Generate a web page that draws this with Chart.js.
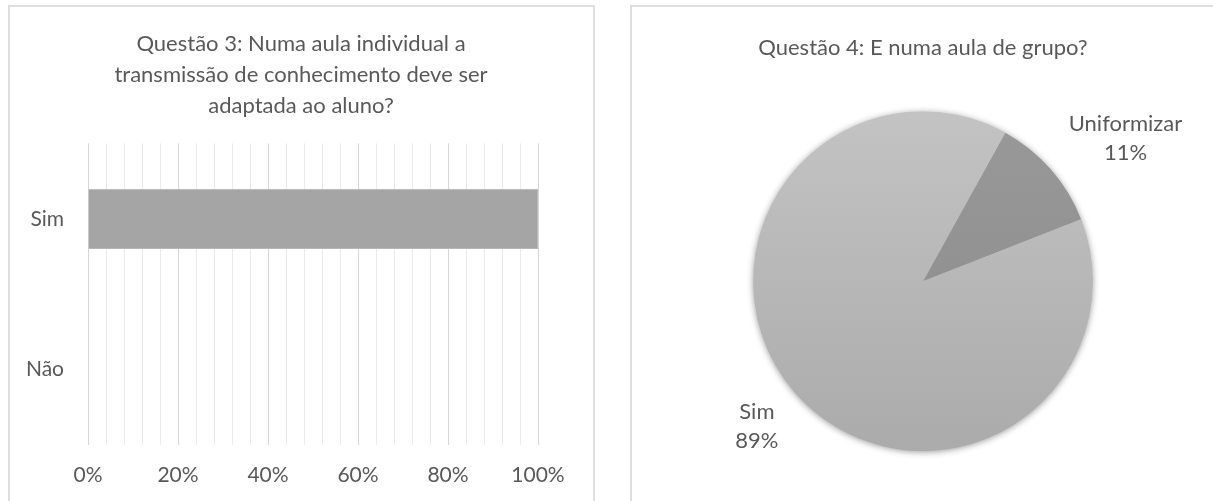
<!DOCTYPE html>
<html>
<head>
<meta charset="utf-8">
<script src="https://cdn.jsdelivr.net/npm/chart.js@4.4.1/dist/chart.umd.min.js"></script>
<style>
    html, body { margin: 0; padding: 0; background: #fff; }
    body { width: 1213px; height: 501px; position: relative; overflow: hidden; }
    .panel { position: absolute; border: 2px solid #dedede; background: #fff; }
    #panel-q3 { left: 8px; top: 5px; width: 583px; height: 520px; }
    #panel-q4 { left: 630px; top: 5px; width: 620px; height: 520px; }
    canvas { position: absolute; }
    #chart-q3 { left: 10px; top: 8px; }
    #chart-q4 { left: 632px; top: 8px; }
</style>
</head>
<body>
<div class="panel" id="panel-q3"></div>
<div class="panel" id="panel-q4"></div>
<canvas id="chart-q3" width="582" height="493"></canvas>
<canvas id="chart-q4" width="581" height="493"></canvas>

<script>
// Question 3 (bar)
const q3Title = ['Questão 3: Numa aula individual a', 'transmissão de conhecimento deve ser', 'adaptada ao aluno?'];
const q3Labels = ['Sim', 'Não'];
const q3Values = [100, 0]; // percent

// Question 4 (pie)
const q4Title = 'Questão 4: E numa aula de grupo?';
const q4Labels = ['Uniformizar', 'Sim'];
const q4Values = [11, 89]; // percent

const FONT = "Lato, 'Open Sans', sans-serif";
const TEXT = '#595959';

// center the title over the whole canvas, not just the padded area
const fullWidthTitle = {
    id: 'fullWidthTitle',
    afterLayout(chart) {
        const t = chart.titleBlock;
        if (!t) return;
        t.left = 0;
        t.right = chart.width;
        t.width = chart.width;
    }
};

// Bar chart
new Chart(document.getElementById('chart-q3'), {
    type: 'bar',
    data: {
        labels: q3Labels,
        datasets: [{
            data: q3Values,
            backgroundColor: '#a5a5a5',
            borderColor: '#b8b8b8',
            borderWidth: 1,
            categoryPercentage: 0.4,
            barPercentage: 1
        }]
    },
    options: {
        indexAxis: 'y',
        responsive: false,
        animation: false,
        layout: { padding: { left: 0, right: 54, top: 0, bottom: 0 } },
        plugins: {
            legend: { display: false },
            tooltip: { enabled: false },
            title: {
                display: true,
                text: q3Title,
                color: TEXT,
                font: { family: FONT, size: 22, weight: 'normal', lineHeight: 1.4 },
                padding: { top: 21, bottom: 22 }
            }
        },
        scales: {
            x: {
                min: 0,
                max: 100,
                afterFit: scale => { scale.height = 56; },
                ticks: {
                    stepSize: 4,
                    autoSkip: false,
                    maxRotation: 0,
                    padding: 18,
                    color: TEXT,
                    font: { family: FONT, size: 21 },
                    callback: v => (v % 20 === 0 ? v + '%' : '')
                },
                grid: {
                    drawTicks: false,
                    color: ctx => (ctx.tick && ctx.tick.value % 20 === 0 ? '#d6d6d6' : '#ebebeb')
                },
                border: { display: false }
            },
            y: {
                afterFit: scale => { scale.width = 78; },
                ticks: {
                    padding: 24,
                    color: TEXT,
                    font: { family: FONT, size: 21 }
                },
                grid: { display: false, drawTicks: false },
                border: { display: false }
            }
        }
    },
    plugins: [fullWidthTitle]
});

// Pie: soft shadow behind the disc and outside labels
const pieExtras = {
    id: 'pieExtras',
    beforeDatasetsDraw(chart) {
        const arc = chart.getDatasetMeta(0).data[0];
        if (!arc) return;
        const ctx = chart.ctx;
        ctx.save();
        ctx.shadowColor = 'rgba(0,0,0,0.45)';
        ctx.shadowBlur = 7;
        ctx.shadowOffsetY = 1;
        ctx.fillStyle = '#b4b4b4';
        ctx.beginPath();
        ctx.arc(arc.x, arc.y, arc.outerRadius - 0.5, 0, Math.PI * 2);
        ctx.fill();
        ctx.restore();
    },
    afterDatasetsDraw(chart, args, opts) {
        const ctx = chart.ctx;
        const meta = chart.getDatasetMeta(0);
        const total = q4Values.reduce((a, b) => a + b, 0);
        ctx.save();
        ctx.fillStyle = TEXT;
        ctx.font = `22px ${FONT}`;
        ctx.textAlign = 'center';
        ctx.textBaseline = 'middle';
        meta.data.forEach((arc, i) => {
            const nudge = opts.nudge[i];
            const mid = (arc.startAngle + arc.endAngle) / 2 + nudge.angle * Math.PI / 180;
            const r = arc.outerRadius + nudge.dist;
            const x = arc.x + Math.cos(mid) * r;
            const y = arc.y + Math.sin(mid) * r;
            const pct = Math.round(q4Values[i] / total * 100) + '%';
            ctx.fillText(q4Labels[i], x, y - 14.5);
            ctx.fillText(pct, x, y + 14.5);
        });
        ctx.restore();
    }
};

function sliceGradient(ctx, top, bottom) {
    const area = ctx.chart.chartArea;
    if (!area) return top;
    const g = ctx.chart.ctx.createLinearGradient(0, area.top, 0, area.bottom);
    g.addColorStop(0, top);
    g.addColorStop(1, bottom);
    return g;
}

new Chart(document.getElementById('chart-q4'), {
    type: 'pie',
    data: {
        labels: q4Labels,
        datasets: [{
            data: q4Values,
            backgroundColor: ctx => (ctx.dataIndex === 0
                ? sliceGradient(ctx, '#999999', '#8a8a8a')
                : sliceGradient(ctx, '#c3c3c3', '#ababab')),
            borderWidth: 0
        }]
    },
    options: {
        responsive: false,
        animation: false,
        rotation: 29,
        layout: { padding: { left: 121, right: 120, top: 0, bottom: 50 } },
        plugins: {
            legend: { display: false },
            tooltip: { enabled: false },
            title: {
                display: true,
                text: q4Title,
                color: TEXT,
                font: { family: FONT, size: 22, weight: 'normal', lineHeight: 1.2 },
                padding: { top: 27, bottom: 50 }
            },
            pieExtras: {
                nudge: [{ angle: 6, dist: 78 }, { angle: 0, dist: 51 }]
            }
        }
    },
    plugins: [pieExtras]
});
</script>
</body>
</html>
